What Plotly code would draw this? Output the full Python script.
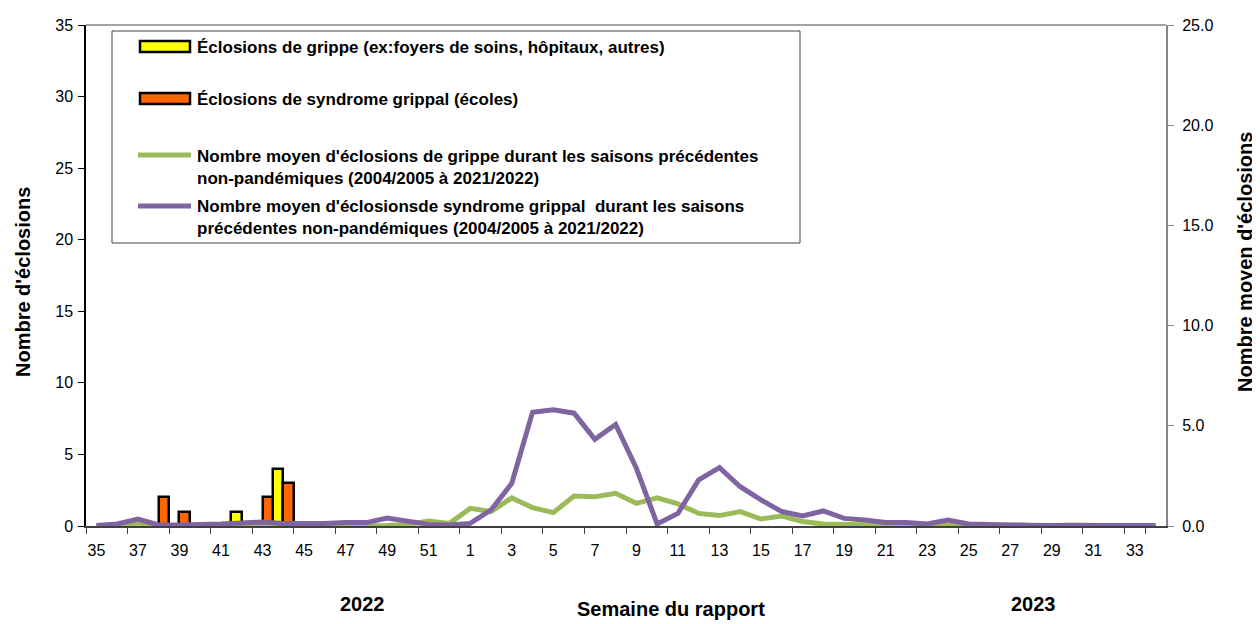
import plotly.graph_objects as go

weeks = ["35", "36", "37", "38", "39", "40", "41", "42", "43", "44", "45", "46",
         "47", "48", "49", "50", "51", "52", "1", "2", "3", "4", "5", "6", "7",
         "8", "9", "10", "11", "12", "13", "14", "15", "16", "17", "18", "19",
         "20", "21", "22", "23", "24", "25", "26", "27", "28", "29", "30", "31",
         "32", "33", "34"]

tick_labels = ["35", "37", "39", "41", "43", "45", "47", "49", "51", "1", "3", "5",
               "7", "9", "11", "13", "15", "17", "19", "21", "23", "25", "27", "29",
               "31", "33"]

# Outbreak counts (left axis)
grippe_weeks = ["42", "44"]
grippe_counts = [1, 4]
sg_weeks = ["38", "39", "43", "44"]
sg_counts = [2, 1, 2, 3]

# Historical averages (right axis)
avg_grippe = [0, 0, 0.15, 0, 0, 0, 0.02, 0.05, 0.08, 0.03, 0, 0,
              0, 0, 0.03, 0.08, 0.25, 0.13, 0.88, 0.72, 1.4, 0.92, 0.67, 1.5, 1.46,
              1.63, 1.13, 1.4, 1.1, 0.63, 0.52, 0.72, 0.35, 0.5, 0.22, 0.1, 0.08,
              0.03, 0, 0, 0, 0.05, 0.02, 0.02, 0.05, 0.02, 0.02, 0.05, 0.02,
              0, 0, 0]
avg_sg = [0.02, 0.1, 0.35, 0.05, 0.05, 0.05, 0.1, 0.15, 0.2, 0.12, 0.1, 0.13,
          0.17, 0.17, 0.4, 0.22, 0.08, 0.05, 0.13, 0.8, 2.13, 5.68, 5.8, 5.63, 4.33,
          5.07, 2.88, 0.1, 0.63, 2.3, 2.91, 1.96, 1.3, 0.72, 0.5, 0.75, 0.38,
          0.3, 0.17, 0.17, 0.1, 0.3, 0.1, 0.07, 0.03, 0.03, 0.02, 0.02, 0.02,
          0.02, 0.02, 0.02]

YELLOW = "#FFFF00"
ORANGE = "#FF6600"
GREEN = "#9BBB59"
PURPLE = "#8064A2"

FONT = "Liberation Sans, Arial, sans-serif"

legend_texts = [
    "Éclosions de grippe (ex:foyers de soins, hôpitaux, autres)",
    "Éclosions de syndrome grippal (écoles)",
    "Nombre moyen d'éclosions de grippe durant les saisons précédentes<br>non-pandémiques (2004/2005 à 2021/2022)",
    "Nombre moyen d'éclosionsde syndrome grippal  durant les saisons<br>précédentes non-pandémiques (2004/2005 à 2021/2022)",
]

fig = go.Figure()

fig.add_trace(go.Bar(x=grippe_weeks, y=grippe_counts, name=legend_texts[0],
                     marker=dict(color=YELLOW, line=dict(color="black", width=2.5)),
                     offsetgroup="a", showlegend=False))
fig.add_trace(go.Bar(x=sg_weeks, y=sg_counts, name=legend_texts[1],
                     marker=dict(color=ORANGE, line=dict(color="black", width=2.5)),
                     offsetgroup="b", showlegend=False))
fig.add_trace(go.Scatter(x=weeks, y=avg_grippe, mode="lines", yaxis="y2",
                         line=dict(color=GREEN, width=5), showlegend=False))
fig.add_trace(go.Scatter(x=weeks, y=avg_sg, mode="lines", yaxis="y2",
                         line=dict(color=PURPLE, width=5), showlegend=False))

# The page body adds an 8px offset; work in screen pixels and compensate.
OFF = 8
W, H = 1260, 624
SL, SR, ST, SB = 86, 1166, 25, 526          # plot area in screen pixels
L = SL - OFF
T = ST - OFF
R = W - (SR - OFF)
B = H - (SB - OFF)
PW = SR - SL
PH = SB - ST


def px(x):
    return (x - SL) / PW


def py(y):
    return (SB - y) / PH


shapes = []
annotations = []

# plot border top (gray)
shapes.append(dict(type="line", xref="paper", yref="paper", x0=0, x1=1, y0=1, y1=1,
                   line=dict(color="#868686", width=1.5)))

# manual legend box
shapes.append(dict(type="rect", xref="paper", yref="paper",
                   x0=px(112), x1=px(800), y0=py(243), y1=py(31),
                   line=dict(color="#404040", width=1), fillcolor="white", layer="above"))
# swatches
shapes.append(dict(type="rect", xref="paper", yref="paper",
                   x0=px(140), x1=px(190), y0=py(52), y1=py(41),
                   line=dict(color="black", width=2.5), fillcolor=YELLOW, layer="above"))
shapes.append(dict(type="rect", xref="paper", yref="paper",
                   x0=px(140), x1=px(190), y0=py(104), y1=py(93),
                   line=dict(color="black", width=2.5), fillcolor=ORANGE, layer="above"))
shapes.append(dict(type="line", xref="paper", yref="paper",
                   x0=px(138), x1=px(191), y0=py(155), y1=py(155),
                   line=dict(color=GREEN, width=5), layer="above"))
shapes.append(dict(type="line", xref="paper", yref="paper",
                   x0=px(138), x1=px(191), y0=py(206), y1=py(206),
                   line=dict(color=PURPLE, width=5), layer="above"))

leg_font = dict(family=FONT, size=17, color="black")
for txt, yy in zip(legend_texts, [47, 100, 167, 217]):
    annotations.append(dict(text="<b>" + txt + "</b>", xref="paper", yref="paper",
                            x=px(195), y=py(yy), xanchor="left", yanchor="middle",
                            align="left", showarrow=False, font=leg_font))

title_font = dict(family=FONT, size=20, color="black")
annotations.append(dict(text="<b>2022</b>", xref="paper", yref="paper",
                        x=px(362), y=py(604), xanchor="center", yanchor="middle",
                        showarrow=False, font=title_font))
annotations.append(dict(text="<b>2023</b>", xref="paper", yref="paper",
                        x=px(1033), y=py(604), xanchor="center", yanchor="middle",
                        showarrow=False, font=title_font))
annotations.append(dict(text="<b>Semaine du rapport</b>", xref="paper", yref="paper",
                        x=px(671), y=py(609), xanchor="center", yanchor="middle",
                        showarrow=False, font=title_font))
annotations.append(dict(text="<b>Nombre d'éclosions</b>", xref="paper", yref="paper",
                        x=px(23), y=py(282), xanchor="center", yanchor="middle",
                        textangle=-90, showarrow=False, font=title_font))
annotations.append(dict(text="<b>Nombre moyen d'éclosions</b>", xref="paper", yref="paper",
                        x=px(1245), y=py(262), xanchor="center", yanchor="middle",
                        textangle=-90, showarrow=False, font=title_font))

tick_font = dict(family=FONT, size=16, color="black")

fig.update_layout(
    width=W, height=H,
    margin=dict(l=L, r=R, t=T, b=B, pad=0, autoexpand=False),
    paper_bgcolor="white", plot_bgcolor="white",
    barmode="group", bargap=0, bargroupgap=0,
    showlegend=False,
    shapes=shapes, annotations=annotations,
    xaxis=dict(type="category", categoryorder="array", categoryarray=weeks,
               tickmode="array", tickvals=tick_labels, ticktext=tick_labels,
               tickson="boundaries", ticks="outside", ticklen=6, tickcolor="#404040",
               tickangle=0, automargin=False, ticklabelstandoff=9,
               showline=True, linecolor="#404040", linewidth=1.5,
               showgrid=False, zeroline=False, tickfont=tick_font,
               range=[-0.5, len(weeks) - 0.5]),
    yaxis=dict(range=[0, 35], dtick=5, ticks="outside", ticklen=6, tickcolor="black",
               automargin=False, ticklabelstandoff=2,
               showline=True, linecolor="black", linewidth=1.5,
               showgrid=False, zeroline=False, tickfont=tick_font),
    yaxis2=dict(range=[0, 25], dtick=5, tickformat=".1f", overlaying="y", side="right",
                ticks="outside", ticklen=6, tickcolor="#868686", automargin=False,
                ticklabelstandoff=5,
                showline=True, linecolor="#868686", linewidth=2,
                showgrid=False, zeroline=False, tickfont=tick_font),
)

fig.write_html("out.html")
